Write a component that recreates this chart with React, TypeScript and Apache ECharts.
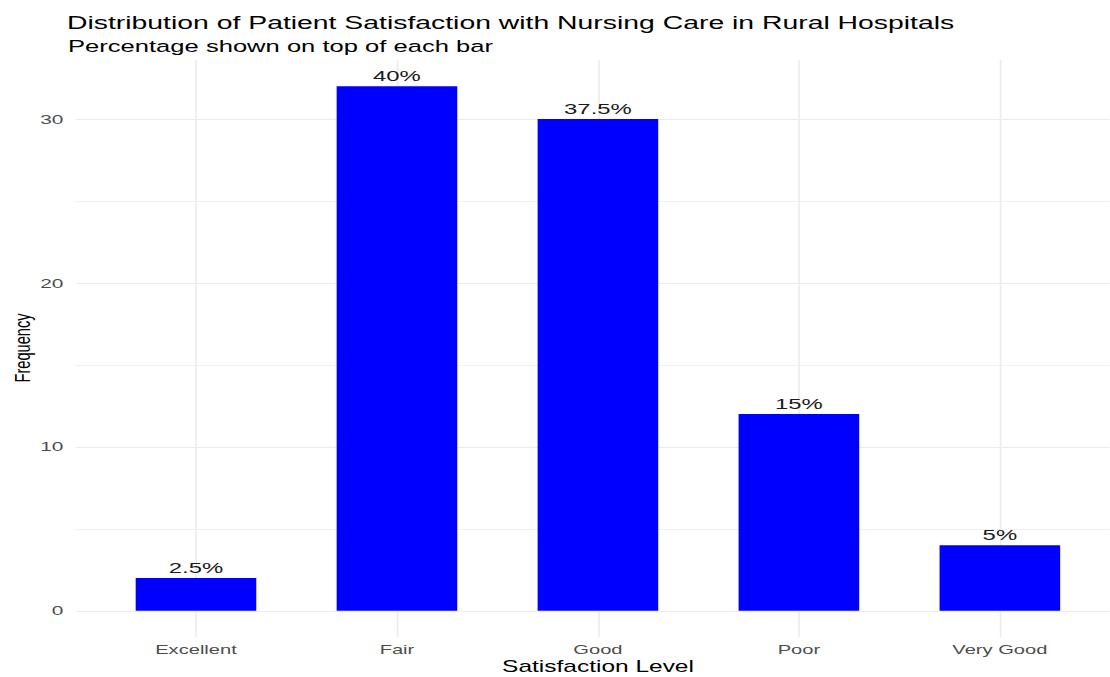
import React, { useEffect, useRef } from "react";
import * as echarts from "echarts";

const categories = ["Excellent", "Fair", "Good", "Poor", "Very Good"];
const counts = [2, 32, 30, 12, 4];
const percentLabels = ["2.5%", "40%", "37.5%", "15%", "5%"];
const yMajorTicks = [0, 10, 20, 30];
const yMinorTicks = [5, 15, 25];
const xPositions = [1, 2, 3, 4, 5];

const TITLE = "Distribution of Patient Satisfaction with Nursing Care in Rural Hospitals";
const SUBTITLE = "Percentage shown on top of each bar";

const S = 1.55;
const BASE_W = 1110 / S;
const FONT = "'Liberation Sans', Arial, sans-serif";

export default function App() {
  const ref = useRef<HTMLDivElement>(null);
  useEffect(() => {
    if (!ref.current) return;
    const chart = echarts.init(ref.current, undefined, { renderer: "svg" });
    chart.setOption({
      animation: false,
      backgroundColor: "#FFFFFF",
      textStyle: { fontFamily: FONT },
      title: [
        {
          text: TITLE,
          left: 67 / S - 5,
          top: 8,
          textStyle: { fontSize: 18.3, fontWeight: "normal", color: "#000000", fontFamily: FONT },
        },
        {
          text: SUBTITLE,
          left: 68 / S - 5,
          top: 33,
          textStyle: { fontSize: 16.5, fontWeight: "normal", color: "#000000", fontFamily: FONT },
        },
      ],
      grid: { left: 75.4 / S, right: 0, top: 60, bottom: 40, containLabel: false },
      xAxis: {
        type: "value",
        min: 0.4,
        max: 5.547,
        axisLine: { show: false, onZero: false },
        axisTick: { show: false, customValues: xPositions },
        axisLabel: {
          customValues: xPositions,
          formatter: (v: number) => categories[Math.round(v) - 1] ?? "",
          margin: 6,
          fontSize: 13,
          color: "#4D4D4D",
          fontFamily: FONT,
        },
        splitLine: { show: true, lineStyle: { color: "#EBEBEB", width: 1 } },
      },
      yAxis: [
        {
          type: "value",
          min: -1.6,
          max: 33.6,
          axisLine: { show: false },
          axisTick: { show: false, customValues: yMajorTicks },
          axisLabel: {
            customValues: yMajorTicks,
            margin: 12 / S,
            fontSize: 13.5,
            color: "#4D4D4D",
            fontFamily: FONT,
          },
          splitLine: { show: true, lineStyle: { color: "#EBEBEB", width: 1 } },
        },
        {
          type: "value",
          min: -1.6,
          max: 33.6,
          position: "left",
          axisLine: { show: false },
          axisTick: { show: false, customValues: yMinorTicks },
          axisLabel: { show: false, customValues: yMinorTicks },
          splitLine: { show: true, lineStyle: { color: "#F1F1F1", width: 1 } },
        },
      ],
      series: [
        {
          type: "bar",
          xAxisIndex: 0,
          yAxisIndex: 0,
          data: counts.map((c, i) => [xPositions[i], c]),
          barWidth: 120.6 / S,
          itemStyle: { color: "#0000FF" },
          label: {
            show: true,
            position: "top",
            distance: 3,
            formatter: (p: any) => percentLabels[p.dataIndex],
            fontSize: 15.4,
            color: "#1A1A1A",
            fontFamily: FONT,
          },
          z: 3,
        },
      ],
      graphic: [
        {
          type: "text",
          x: 598 / S,
          y: 666,
          style: {
            text: "Satisfaction Level",
            font: `15.8px ${FONT}`,
            fill: "#000000",
            align: "center",
            verticalAlign: "middle",
            textAlign: "center",
            textVerticalAlign: "middle",
          },
        },
        {
          type: "text",
          x: 22 / S,
          y: 348,
          rotation: Math.PI / 2,
          style: {
            text: "Frequency",
            font: `14.6px ${FONT}`,
            fill: "#000000",
            align: "center",
            verticalAlign: "middle",
            textAlign: "center",
            textVerticalAlign: "middle",
          },
        },
      ],
    });
    return () => chart.dispose();
  }, []);
  return (
    <div
      ref={ref}
      style={{
        width: BASE_W,
        height: 677,
        position: "absolute",
        left: 0,
        top: 0,
        transform: `scaleX(${S})`,
        transformOrigin: "0 0",
      }}
    />
  );
}
